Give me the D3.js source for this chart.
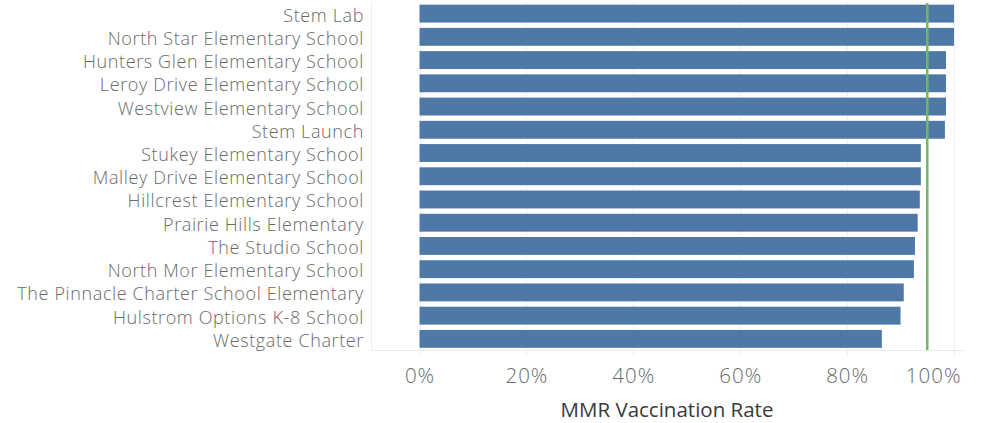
<!DOCTYPE html>
<html><head><meta charset="utf-8">
<script src="https://cdn.jsdelivr.net/npm/d3@7"></script>
<style>body{margin:0;background:#fff;}svg{display:block;font-family:"Open Sans",sans-serif;}</style>
</head><body><svg id="c" width="981" height="423"></svg>
<script>
const schools = ["Stem Lab","North Star Elementary School","Hunters Glen Elementary School","Leroy Drive Elementary School","Westview Elementary School","Stem Launch","Stukey Elementary School","Malley Drive Elementary School","Hillcrest Elementary School","Prairie Hills Elementary","The Studio School","North Mor Elementary School","The Pinnacle Charter School Elementary","Hulstrom Options K-8 School","Westgate Charter"];
const rates = [1.0,1.0,0.985,0.985,0.985,0.983,0.938,0.938,0.936,0.932,0.927,0.925,0.906,0.900,0.865];
const target = 0.95;
const ticks = [0,0.2,0.4,0.6,0.8,1.0];
const axisTitle = "MMR Vaccination Rate";

const svg = d3.select("#c");
const x = d3.scaleLinear().domain([0,1]).range([419.5,954]);
const y = d3.scaleBand().domain(schools).range([2,350.5]).paddingInner(0.23).paddingOuter(0.115);

// header separator
svg.append("line").attr("x1",371.5).attr("x2",371.5).attr("y1",2).attr("y2",350).attr("stroke","#eee");
// gridlines
svg.append("g").selectAll("line").data(ticks).join("line")
  .attr("x1",d=>Math.round(x(d))+0.5).attr("x2",d=>Math.round(x(d))+0.5)
  .attr("y1",2).attr("y2",356).attr("stroke","#efefef").attr("stroke-width",1);
// baseline
svg.append("line").attr("x1",372).attr("x2",965).attr("y1",350.5).attr("y2",350.5).attr("stroke","#eaeaea");
// bars
svg.append("g").selectAll("rect").data(schools).join("rect")
  .attr("x",x(0)).attr("y",d=>y(d)).attr("height",y.bandwidth())
  .attr("width",(d,i)=>x(rates[i])-x(0)).attr("fill","#4e79a7");
// target line
svg.append("line").attr("x1",x(target)).attr("x2",x(target)).attr("y1",3).attr("y2",350)
  .attr("stroke","#72b865").attr("stroke-width",2.5);
// y labels
svg.append("g").selectAll("text").data(schools).join("text")
  .attr("x",364).attr("y",d=>y(d)+y.bandwidth()/2+8)
  .attr("text-anchor","end").attr("fill","#6a6a6a").attr("font-size",18).attr("font-weight",300)
  .attr("letter-spacing","0.62px").text(d=>d);
// x axis
const xa = d3.axisBottom(x).tickValues(ticks).tickFormat(d3.format(".0%")).tickSize(0).tickPadding(0);
const g = svg.append("g").attr("transform","translate(0,383)").call(xa);
g.select(".domain").remove();
g.selectAll("text").attr("font-size",20.5).attr("fill","#6a6a6a").attr("font-weight",300)
  .attr("font-family","Open Sans, sans-serif").attr("letter-spacing","1px").attr("dy",0)
  .filter(d=>d===1).attr("text-anchor","end").attr("x",7);
svg.append("text").attr("x",667).attr("y",417).attr("text-anchor","middle").attr("font-size",20.5).attr("fill","#3a3a3a").text(axisTitle);
</script></body></html>
